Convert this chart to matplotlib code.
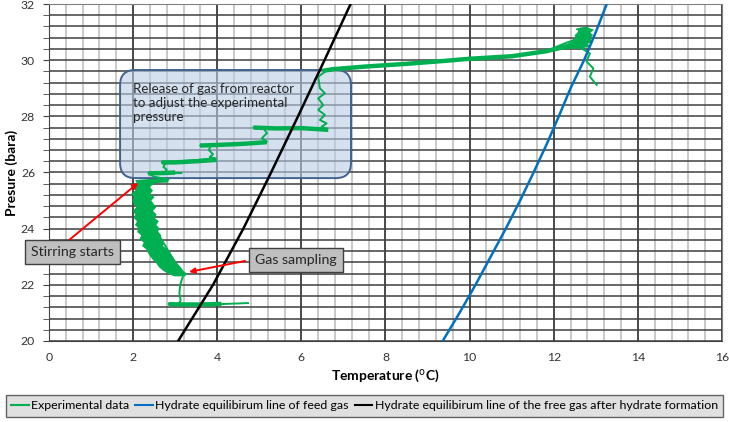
import matplotlib
matplotlib.use("Agg")
import matplotlib.pyplot as plt
from matplotlib.patches import FancyBboxPatch
from matplotlib.lines import Line2D
import numpy as np

plt.rcParams['font.family'] = ['Lato', 'DejaVu Sans']

# hydrate equilibrium lines (temperature degC, pressure bara)
feed_T = [9.36, 9.76, 10.14, 10.5, 10.86, 11.2, 11.52, 11.83, 12.12, 12.4, 12.72, 13.0, 13.26]
feed_P = [20, 21, 22, 23, 24, 25, 26, 27, 28, 29, 30, 31, 32]
free_T = [3.07, 3.9, 4.62, 5.28, 5.92, 6.55, 7.17]
free_P = [20.0, 22.0, 24.0, 26.0, 28.0, 30.0, 32.0]

# experimental trajectory (thin trace)
exp_T = [13.02, 12.86, 12.94, 12.78, 12.86, 12.66, 12.74,
         12.55, 12.9, 12.5, 12.85, 12.55, 12.9, 12.6, 12.85, 12.55, 12.8,
         12.6, 12.75, 12.45, 12.3, 12.1,
         11.83, 11.0, 10.0, 9.45, 8.5, 7.5, 6.76, 6.6,
         6.40, 6.44, 6.56, 6.40, 6.52, 6.40, 6.56, 6.44, 6.60, 6.48, 6.60,
         5.8, 4.86, 5.10, 5.18, 5.06, 5.18, 5.0, 4.3, 3.59,
         3.85, 3.80, 3.90, 3.82, 3.95, 3.3, 2.68,
         2.78, 2.72, 2.80, 2.75, 3.15, 2.36, 2.5, 2.84, 2.12,
         2.2, 2.6, 3.0, 3.2,
         3.12, 3.10, 3.13, 3.07, 2.84, 3.6, 4.2, 4.73]
exp_P = [29.12, 29.41, 29.71, 29.95, 30.24, 30.42, 30.54,
         30.6, 30.65, 30.72, 30.78, 30.85, 30.9, 30.98, 31.05, 31.1, 31.15,
         31.08, 30.95, 30.7, 30.62, 30.5,
         30.32, 30.14, 30.05, 29.98, 29.87, 29.77, 29.68, 29.63,
         29.41, 29.0, 28.82, 28.64, 28.40, 28.23, 28.05, 27.87, 27.75, 27.63, 27.55,
         27.58, 27.6, 27.57, 27.40, 27.22, 27.10, 27.05, 27.0, 26.96,
         26.95, 26.8, 26.65, 26.55, 26.5, 26.42, 26.36,
         26.36, 26.2, 26.1, 26.0, 25.98, 25.97, 25.85, 25.75, 25.65,
         25.0, 23.8, 22.8, 22.38,
         22.0, 21.7, 21.45, 21.3, 21.32, 21.28, 21.32, 21.35]

# noisy, wide parts of the trace (drawn thicker)
cool_T = [12.4, 12.1, 11.83, 11.0, 10.0, 9.45, 8.5, 7.5, 6.76, 6.5]
cool_P = [30.5, 30.42, 30.32, 30.14, 30.05, 29.98, 29.87, 29.77, 29.68, 29.62]
step1_T = [6.64, 6.0, 5.4, 4.86]
step1_P = [27.52, 27.58, 27.57, 27.6]
step2_T = [5.18, 4.6, 4.0, 3.59]
step2_P = [27.08, 27.02, 26.98, 26.96]
step3_T = [3.99, 3.5, 3.0, 2.68]
step3_P = [26.45, 26.4, 26.36, 26.36]
step4_T = [3.0, 2.7, 2.36]
step4_P = [26.0, 25.98, 25.97]
step5_T = [2.84, 2.5, 2.12]
step5_P = [25.72, 25.7, 25.66]
base_T = [2.84, 3.2, 3.6, 4.1]
base_P = [21.31, 21.3, 21.3, 21.32]

# dense blob at the start of cooling (pressure levels, left/right edges)
blob_P = [30.42, 30.5, 30.6, 30.7, 30.8, 30.9, 31.0, 31.1, 31.18]
blob_L = [12.2, 12.05, 12.3, 12.45, 12.52, 12.48, 12.55, 12.58, 12.62]
blob_R = [12.6, 12.85, 12.8, 12.9, 12.85, 12.92, 12.86, 12.95, 12.8]

# hydrate formation band after stirring: pressure levels and left/right edges
band_P = [25.75, 25.62, 25.5, 25.38, 25.25, 25.14, 25.02, 24.9, 24.78, 24.65,
          24.52, 24.4, 24.28, 24.15, 24.02, 23.9, 23.78, 23.65, 23.52, 23.4,
          23.28, 23.15, 23.02, 22.9, 22.78, 22.65, 22.52, 22.41, 22.32]
band_L = [2.04, 2.08, 1.98, 2.04, 1.93, 2.02, 1.97, 2.0, 2.06, 1.98,
          2.04, 2.0, 2.08, 2.03, 2.12, 2.08, 2.18, 2.14, 2.24, 2.2,
          2.3, 2.34, 2.4, 2.46, 2.54, 2.6, 2.7, 2.82, 2.96]
band_R = [2.44, 2.5, 2.38, 2.46, 2.4, 2.5, 2.42, 2.48, 2.54, 2.46,
          2.55, 2.5, 2.6, 2.54, 2.62, 2.58, 2.66, 2.62, 2.72, 2.7,
          2.8, 2.86, 2.92, 2.98, 3.04, 3.12, 3.18, 3.27, 3.22]

green = '#00b050'
blue = '#0070c0'

fig = plt.figure(figsize=(7.29, 4.22), dpi=100)
ax = fig.add_axes([0.0672, 0.192, 0.9232, 0.7985])

ax.set_xlim(0, 16)
ax.set_ylim(20, 32)
ax.set_xticks(range(0, 17, 2))
ax.set_xticks(np.arange(0, 16.01, 0.4), minor=True)
ax.set_yticks(range(20, 33, 2))
ax.set_yticks(np.arange(20, 32.01, 0.4), minor=True)
ax.set_axisbelow(True)
ax.grid(which='minor', axis='x', color='#c9c9c9', lw=1.4)
ax.grid(which='major', axis='x', color='#3a3a3a', lw=1.3)
ax.grid(which='both', axis='y', color='#3f3f3f', lw=1.1)
ax.tick_params(axis='x', which='both', length=0, pad=8, labelsize=8.8, labelcolor='#333333')
ax.tick_params(axis='y', which='both', direction='out', length=4, color='#404040',
               labelsize=8.8, labelcolor='#333333', pad=6)
for s in ax.spines.values():
    s.set_color('#808080')
ax.spines['left'].set_color('#404040')
ax.spines['bottom'].set_color('#404040')

# release annotation box
box = FancyBboxPatch((1.69, 25.80), 5.49, 3.85,
                     boxstyle='round,pad=0,rounding_size=0.36',
                     mutation_aspect=1.5, facecolor='#b9cde5', alpha=0.6,
                     edgecolor='none', zorder=1.5)
ax.add_patch(box)
box_edge = FancyBboxPatch((1.69, 25.80), 5.49, 3.85,
                          boxstyle='round,pad=0,rounding_size=0.36',
                          mutation_aspect=1.5, facecolor='none',
                          edgecolor='#41628f', lw=1.4, zorder=1.6)
ax.add_patch(box_edge)
ax.text(2.0, 29.2, 'Release of gas from reactor\nto adjust the experimental\npressure',
        ha='left', va='top', fontsize=9.6, color='#262626', linespacing=1.2, zorder=5)

# data
ax.fill_betweenx(band_P, band_L, band_R, color=green, lw=0, zorder=3)
ax.fill_betweenx(blob_P, blob_L, blob_R, color=green, lw=0, zorder=3)
ax.plot(exp_T, exp_P, color=green, lw=1.4, zorder=3)
for tt, pp in [(cool_T, cool_P), (step1_T, step1_P), (step2_T, step2_P),
               (step3_T, step3_P), (step4_T, step4_P), (step5_T, step5_P),
               (base_T, base_P)]:
    ax.plot(tt, pp, color=green, lw=3.2, zorder=3, solid_capstyle='butt')
ax.plot(feed_T, feed_P, color=blue, lw=1.8, zorder=4)
ax.plot(free_T, free_P, color='black', lw=1.8, zorder=4)

# callouts
arrow = dict(arrowstyle='-|>', color='red', lw=1.4, mutation_scale=8,
             shrinkA=0, shrinkB=0)
ax.annotate('', xy=(2.12, 25.63), xytext=(0.45, 23.56), arrowprops=arrow, zorder=6)
ax.annotate('', xy=(3.33, 22.46), xytext=(4.66, 22.85), arrowprops=arrow, zorder=6)
ax.text(0.55, 23.17, 'Stirring starts', ha='center', va='center', fontsize=10.2,
        color='#262626', zorder=7, clip_on=False,
        bbox=dict(boxstyle='square,pad=0.42', facecolor='#bfbfbf', edgecolor='#404040', lw=1))
ax.text(5.87, 22.87, 'Gas sampling', ha='center', va='center', fontsize=10.2,
        color='#262626', zorder=7,
        bbox=dict(boxstyle='square,pad=0.42', facecolor='#bfbfbf', edgecolor='#404040', lw=1))

ax.set_xlabel('Temperature ($^{\\mathrm{o}}$C)', fontsize=10, fontweight='bold', labelpad=3)
ax.set_ylabel('Presure (bara)', fontsize=10, fontweight='bold', labelpad=2)

handles = [Line2D([], [], color=green, lw=1.5),
           Line2D([], [], color=blue, lw=1.5),
           Line2D([], [], color='black', lw=1.5)]
labels = ['Experimental data', 'Hydrate equilibirum line of feed gas',
          'Hydrate equilibirum line of the free gas after hydrate formation']
leg = fig.legend(handles, labels, loc='center', ncol=3,
                 bbox_to_anchor=(0.5, 0.038), fontsize=8.9, frameon=True,
                 fancybox=False, handlelength=1.4, handletextpad=0.2,
                 columnspacing=0.5, borderpad=0.45)
leg.get_frame().set_facecolor('#d9d9d9')
leg.get_frame().set_edgecolor('#404040')
leg.get_frame().set_linewidth(1.0)

fig.savefig('out.png', dpi=100)
